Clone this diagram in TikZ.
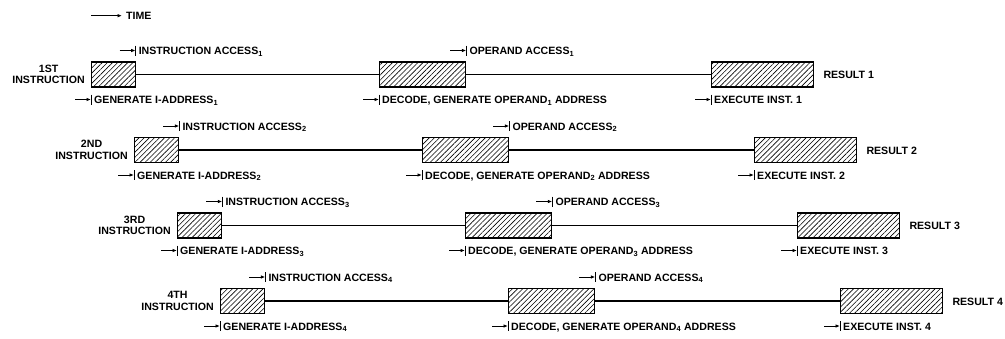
\documentclass[tikz,border=0pt]{standalone}
\usepackage{fontspec}
\setmainfont{Liberation Sans}
\usetikzlibrary{patterns.meta,arrows.meta}

% one timing mark: leader arrow, stop bar and its label
\newcommand\eventmark[3]{%
  \node[evt] (#1) at #2 {#3};
  \coordinate (#1t) at ([xshift=-16pt]#1.west);
  \draw[tick] ([yshift=5pt]#1.west) -- ([yshift=-5pt]#1.west);
  \draw[lead] (#1t) -- (#1.west);
}

\begin{document}
\begin{tikzpicture}[x=1pt,y=-1pt,
  font=\fontsize{10.6}{11.5}\selectfont\bfseries,
  stage/.style={draw, line width=1.3pt, anchor=west, inner sep=0pt,
    minimum height=25pt,
    pattern={Lines[angle=45,distance=3.6pt,line width=0.6pt]}},
  flow/.style={line width=1.1pt},
  evt/.style={anchor=west, inner xsep=3pt, inner ysep=0pt,
    text height=8pt, text depth=0pt},
  tick/.style={line width=0.9pt},
  lead/.style={line width=0.9pt, -{Latex[length=4.5pt,width=3.6pt]}},
  rowname/.style={anchor=east, align=center, inner sep=0pt},
  plain/.style={anchor=west, inner sep=0pt, text height=8pt, text depth=0pt}
]
\useasboundingbox (0,0) rectangle (1005,338);

% time direction
\node[plain, inner xsep=4pt] (time) at (122,15.7) {TIME};
\coordinate (timet) at (91,15.7);
\draw[lead] (timet) -- (time.west);

\foreach \i/\ord in {1/1ST,2/2ND,3/3RD,4/4TH}{
  \pgfmathsetmacro\xa{91+43*(\i-1)}
  \pgfmathsetmacro\yc{74.5+75.5*(\i-1)}
  % the three stages of one instruction
  \node[stage, minimum width=44pt]  (g\i) at (\xa,\yc) {};
  \node[stage, minimum width=86pt]  (d\i) at (\xa+288,\yc) {};
  \node[stage, minimum width=102pt] (e\i) at (\xa+620,\yc) {};
  \draw[flow] (g\i) -- (d\i);
  \draw[flow] (d\i) -- (e\i);
  \node[rowname] (n\i) at ([xshift=-6pt]g\i.west) {\ord\\INSTRUCTION};
  \node[plain] (r\i) at ([xshift=9pt]e\i.east) {RESULT \i};
  % events above the line
  \eventmark{ia\i}{([yshift=24pt]g\i.east)}{INSTRUCTION ACCESS\textsubscript{\i}}
  \eventmark{oa\i}{([yshift=24pt]d\i.east)}{OPERAND ACCESS\textsubscript{\i}}
  % events below the line
  \eventmark{ga\i}{([yshift=-25pt]g\i.west)}{GENERATE I-ADDRESS\textsubscript{\i}}
  \eventmark{dc\i}{([yshift=-25pt]d\i.west)}{DECODE, GENERATE OPERAND\textsubscript{\i} ADDRESS}
  \eventmark{ex\i}{([yshift=-25pt]e\i.west)}{EXECUTE INST. \i}
}
\end{tikzpicture}
\end{document}
